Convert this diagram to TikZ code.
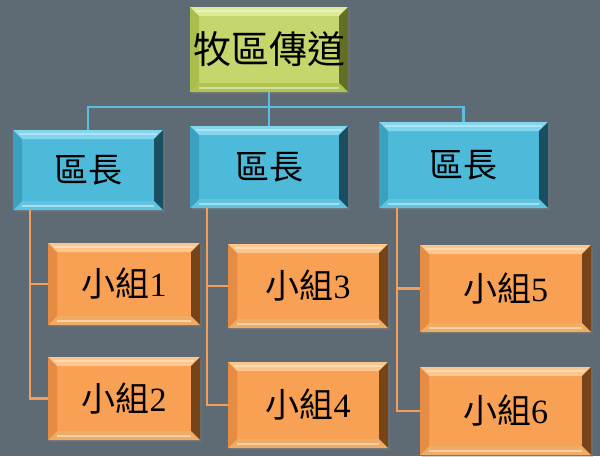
\documentclass[tikz,border=0pt]{standalone}
\usepackage{fontspec}
\setmainfont{Liberation Serif}
\newfontfamily\cjk{Noto Sans CJK TC}
\usetikzlibrary{calc,shadows}
\definecolor{bgc}{RGB}{94,106,116}
\definecolor{gface}{RGB}{196,214,108}
\definecolor{gtop}{RGB}{222,236,150}
\definecolor{gright}{RGB}{98,112,38}
\definecolor{gbot}{RGB}{176,196,84}
\definecolor{gleft}{RGB}{170,190,78}
\definecolor{bface}{RGB}{78,186,218}
\definecolor{btop}{RGB}{130,214,238}
\definecolor{bright}{RGB}{28,78,98}
\definecolor{bbot}{RGB}{96,196,224}
\definecolor{bleft}{RGB}{60,160,192}
\definecolor{oface}{RGB}{248,160,84}
\definecolor{otop}{RGB}{252,198,140}
\definecolor{oright}{RGB}{118,68,24}
\definecolor{obot}{RGB}{240,172,100}
\definecolor{oleft}{RGB}{230,140,66}
\definecolor{bline}{RGB}{92,190,222}
\definecolor{oline}{RGB}{244,158,88}
\newcommand{\bevel}[4]{%
  \fill[#1] (path picture bounding box.north west) -- (path picture bounding box.north east)
    -- ($(path picture bounding box.north east)+(-9,9)$) -- ($(path picture bounding box.north west)+(9,9)$) -- cycle;
  \fill[#2] (path picture bounding box.north east) -- (path picture bounding box.south east)
    -- ($(path picture bounding box.south east)+(-9,-9)$) -- ($(path picture bounding box.north east)+(-9,9)$) -- cycle;
  \fill[#3] (path picture bounding box.south east) -- (path picture bounding box.south west)
    -- ($(path picture bounding box.south west)+(9,-9)$) -- ($(path picture bounding box.south east)+(-9,-9)$) -- cycle;
  \fill[#4] (path picture bounding box.south west) -- (path picture bounding box.north west)
    -- ($(path picture bounding box.north west)+(9,9)$) -- ($(path picture bounding box.south west)+(9,-9)$) -- cycle;
  \draw[white,opacity=0.45,line width=1.2] ($(path picture bounding box.south west)+(9,-4)$) -- ($(path picture bounding box.south east)+(-9,-4)$);
  \draw[white,opacity=0.35,line width=1.2] ($(path picture bounding box.north west)+(6,4)$) -- ($(path picture bounding box.north east)+(-6,4)$);
}
\tikzset{
  box/.style={inner sep=0pt, outer sep=0pt, text=black,
    font=\fontsize{34}{34}\selectfont,
    drop shadow={opacity=0.35, shadow xshift=2pt, shadow yshift=-2pt}},
  gbox/.style={box, fill=gface, font=\fontsize{38}{38}\selectfont,
    path picture={\bevel{gtop}{gright}{gbot}{gleft}}},
  bbox/.style={box, fill=bface, path picture={\bevel{btop}{bright}{bbot}{bleft}}},
  obox/.style={box, fill=oface, path picture={\bevel{otop}{oright}{obot}{oleft}}},
  bconn/.style={draw=bline, line width=2.1pt},
  oconn/.style={draw=oline, line width=2.1pt},
}
\begin{document}
\begin{tikzpicture}[x=1pt,y=-1pt]
\fill[bgc] (0,0) rectangle (600,456);
\useasboundingbox (0,0) rectangle (600,456);
\coordinate (hub) at (268,107);
\node[gbox, minimum width=158pt, minimum height=85pt] (top) at (269,49.5) {\cjk 牧區傳道};
\node[bbox, minimum width=150pt, minimum height=80pt] (b1) at (88,170) {\cjk 區長};
\node[bbox, minimum width=158pt, minimum height=82pt] (b2) at (269,167) {\cjk 區長};
\node[bbox, minimum width=169pt, minimum height=86pt] (b3) at (463.5,165) {\cjk 區長};
\draw[bconn] (top.south) -- (b2.north);
\draw[bconn] (b1.north) |- (hub) -| (b3.north);
\coordinate (c1) at ($(b1.south west)+(17,0)$);
\coordinate (c2) at ($(b2.south west)+(17,0)$);
\coordinate (c3) at ($(b3.south west)+(18,0)$);
\node[obox, minimum width=152pt, minimum height=82pt] (o1) at (124,284) {{\cjk 小組}1};
\node[obox, minimum width=152pt, minimum height=83pt] (o2) at (124,398.5) {{\cjk 小組}2};
\node[obox, minimum width=160pt, minimum height=84pt] (o3) at (308,286) {{\cjk 小組}3};
\node[obox, minimum width=160pt, minimum height=86pt] (o4) at (308,405) {{\cjk 小組}4};
\node[obox, minimum width=171pt, minimum height=87pt] (o5) at (505.5,288.5) {{\cjk 小組}5};
\node[obox, minimum width=171pt, minimum height=88pt] (o6) at (505.5,411) {{\cjk 小組}6};
\draw[oconn] (c1) |- (o1.west);
\draw[oconn] (c1) |- (o2.west);
\draw[oconn] (c2) |- (o3.west);
\draw[oconn] (c2) |- (o4.west);
\draw[oconn] (c3) |- (o5.west);
\draw[oconn] (c3) |- (o6.west);
\end{tikzpicture}
\end{document}
